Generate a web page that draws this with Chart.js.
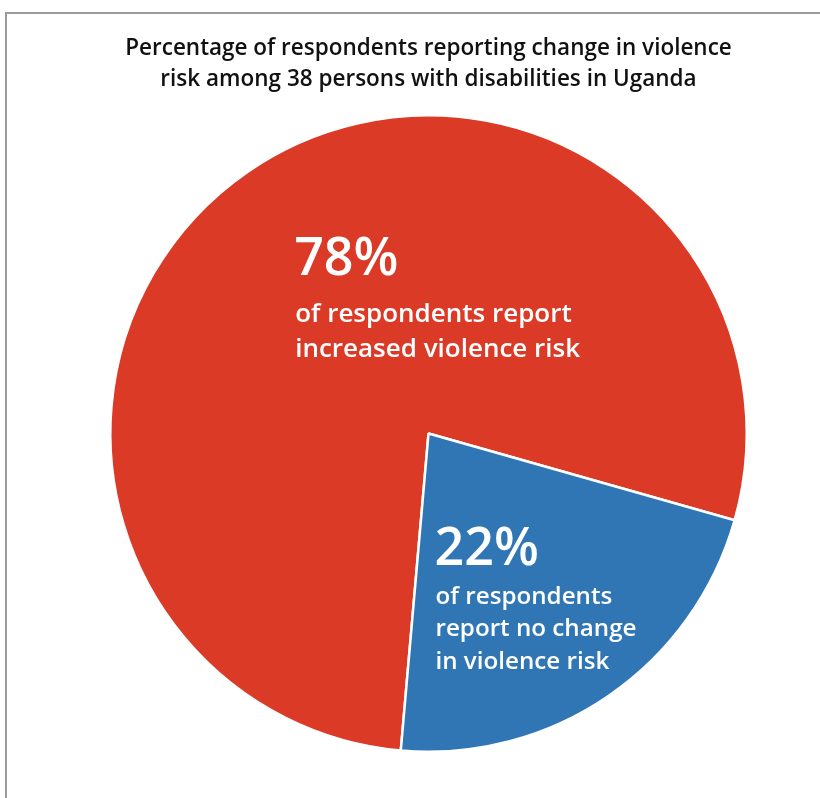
<!DOCTYPE html>
<html>
<head>
<meta charset="utf-8">
<script src="https://cdn.jsdelivr.net/npm/chart.js@4"></script>
<style>
    body { margin: 0; background: #fff; width: 820px; height: 798px; overflow: hidden; position: relative; }
    #frame { position: absolute; left: 5px; top: 12px; width: 830px; height: 800px; border-top: 2px solid #9b9b9b; border-left: 2px solid #9b9b9b; }
    #chart { position: absolute; left: 0; top: 0; }
</style>
</head>
<body>
<div id="frame"></div>
<canvas id="chart" width="820" height="798"></canvas>
<script>
// Data
const categories = ['increased violence risk', 'no change in violence risk'];
const percentages = [78, 22];
const sliceColors = ['#db3a26', '#3076b5'];
const bigLabels = ['78%', '22%'];
const smallLabels = [
    ['of respondents report', 'increased violence risk'],
    ['of respondents', 'report no change', 'in violence risk']
];
const titleLines = [
    'Percentage of respondents reporting change in violence',
    'risk among 38 persons with disabilities in Uganda'
];

// text inside slices, placed relative to the pie centre and radius
const sliceText = {
    id: 'sliceText',
    afterDatasetsDraw(chart) {
        const arc = chart.getDatasetMeta(0).data[0];
        const cx = arc.x, cy = arc.y, r = arc.outerRadius;
        const ctx = chart.ctx;
        const spots = [
            { x: cx - 0.416 * r, y: cy - 0.546 * r, gap: 55, step: 35, size: 26 },
            { x: cx + 0.025 * r, y: cy + 0.368 * r, gap: 46, step: 32.5, size: 24.2 }
        ];
        ctx.save();
        ctx.fillStyle = '#fff';
        ctx.textAlign = 'left';
        ctx.textBaseline = 'middle';
        spots.forEach((s, i) => {
            ctx.font = '600 52px "Open Sans"';
            ctx.fillText(bigLabels[i], s.x - 2, s.y);
            ctx.font = '600 ' + s.size + 'px "Open Sans"';
            smallLabels[i].forEach((line, j) => {
                ctx.fillText(line, s.x - 1, s.y + s.gap + j * s.step);
            });
        });
        ctx.restore();
    }
};

new Chart(document.getElementById('chart'), {
    type: 'pie',
    data: {
        labels: categories,
        datasets: [{
            data: percentages,
            backgroundColor: sliceColors,
            borderColor: '#fff',
            borderWidth: 2.5
        }]
    },
    options: {
        responsive: false,
        animation: false,
        rotation: 185,
        layout: { padding: { top: 20, left: 109, right: 72, bottom: 45 } },
        plugins: {
            legend: { display: false },
            tooltip: { enabled: false },
            title: {
                display: true,
                text: titleLines,
                color: '#111',
                font: { family: 'Open Sans', size: 22.5, weight: '600', lineHeight: 1.38 },
                padding: { top: 13, bottom: 19 }
            }
        }
    },
    plugins: [sliceText]
});
</script>
</body>
</html>
